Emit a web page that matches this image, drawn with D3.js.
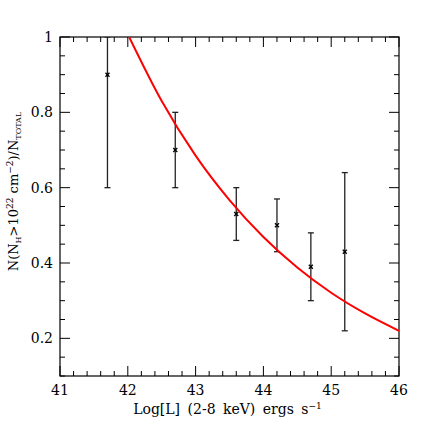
<!DOCTYPE html>
<html>
<head>
<meta charset="utf-8">
<script src="https://cdn.jsdelivr.net/npm/d3@7"></script>
<style>
  body { margin: 0; background: #fff; }
  svg text { font-family: "DejaVu Serif", serif; fill: #000; }
</style>
</head>
<body>
<div id="chart"></div>
<script>
// Measured points (Log L, fraction, lower, upper)
const logL = [41.7, 42.7, 43.6, 44.2, 44.7, 45.2];
const frac = [0.90, 0.70, 0.53, 0.50, 0.39, 0.43];
const errLo = [0.60, 0.60, 0.46, 0.43, 0.30, 0.22];
const errHi = [1.00, 0.80, 0.60, 0.57, 0.48, 0.64];

// Model curve
const curveX = [42.02, 42.5, 43.0, 43.5, 44.0, 44.5, 45.0, 45.5, 46.0];
const curveY = [1.00, 0.83, 0.685, 0.567, 0.469, 0.388, 0.321, 0.266, 0.22];

const xTicks = [41, 42, 43, 44, 45, 46];
const yTicks = [0.2, 0.4, 0.6, 0.8, 1];

const W = 436, H = 436;
const margin = { top: 37, right: 37, bottom: 60, left: 60 };
const width = W - margin.left - margin.right;
const height = H - margin.top - margin.bottom;

const x = d3.scaleLinear().domain([41, 46]).range([0, width]);
const y = d3.scaleLinear().domain([0.1, 1]).range([height, 0]);

const svg = d3.select("#chart")
    .append("svg")
        .attr("width", W)
        .attr("height", H)
    .append("g")
        .attr("transform", `translate(${margin.left},${margin.top})`);

// clip for data
svg.append("clipPath").attr("id", "clip")
    .append("rect").attr("width", width).attr("height", height);

// Frame
svg.append("rect")
    .attr("width", width).attr("height", height)
    .attr("fill", "none").attr("stroke", "#000").attr("stroke-width", 1.2);

// Ticks inside on all four sides
const xMinor = d3.range(41, 46.001, 0.2).map(v => +v.toFixed(1));
const yMinor = d3.range(0.1, 1.0001, 0.05).map(v => +v.toFixed(2));
const majorLen = 10, minorLen = 5;
const isMajorX = v => Math.abs(v - Math.round(v)) < 1e-6;
const isMajorY = v => Math.abs(v * 5 - Math.round(v * 5)) < 1e-6;

const ticks = svg.append("g").attr("stroke", "#000").attr("stroke-width", 1);
xMinor.forEach(v => {
    const L = isMajorX(v) ? majorLen : minorLen;
    ticks.append("line").attr("x1", x(v)).attr("x2", x(v)).attr("y1", height).attr("y2", height - L);
    ticks.append("line").attr("x1", x(v)).attr("x2", x(v)).attr("y1", 0).attr("y2", L);
});
yMinor.forEach(v => {
    const L = isMajorY(v) ? majorLen : minorLen;
    ticks.append("line").attr("y1", y(v)).attr("y2", y(v)).attr("x1", 0).attr("x2", L);
    ticks.append("line").attr("y1", y(v)).attr("y2", y(v)).attr("x1", width).attr("x2", width - L);
});

// Tick labels
svg.append("g").selectAll("text")
    .data(xTicks)
    .join("text")
        .attr("x", d => x(d))
        .attr("y", height + 19)
        .attr("text-anchor", "middle")
        .attr("font-size", 14)
        .text(d => d);
svg.append("g").selectAll("text")
    .data(yTicks)
    .join("text")
        .attr("x", -7)
        .attr("y", d => y(d) + 5)
        .attr("text-anchor", "end")
        .attr("font-size", 14)
        .text(d => d);

// Error bars
const g_err = svg.append("g").attr("clip-path", "url(#clip)")
    .attr("stroke", "#222").attr("stroke-width", 1.3);
logL.forEach((v, i) => {
    g_err.append("line").attr("x1", x(v)).attr("x2", x(v)).attr("y1", y(errLo[i])).attr("y2", y(errHi[i]));
    g_err.append("line").attr("x1", x(v) - 3).attr("x2", x(v) + 3).attr("y1", y(errLo[i])).attr("y2", y(errLo[i]));
    g_err.append("line").attr("x1", x(v) - 3).attr("x2", x(v) + 3).attr("y1", y(errHi[i])).attr("y2", y(errHi[i]));
    // x marker
    const cx = x(v), cy = y(frac[i]), s = 2;
    g_err.append("line").attr("x1", cx - s).attr("x2", cx + s).attr("y1", cy - s).attr("y2", cy + s).attr("stroke", "#000");
    g_err.append("line").attr("x1", cx - s).attr("x2", cx + s).attr("y1", cy + s).attr("y2", cy - s).attr("stroke", "#000");
});

// Model curve
const line = d3.line()
    .x(d => x(d[0]))
    .y(d => y(d[1]))
    .curve(d3.curveMonotoneX);
svg.append("path")
    .attr("clip-path", "url(#clip)")
    .attr("d", line(d3.zip(curveX, curveY)))
    .attr("fill", "none")
    .attr("stroke", "#ff0000")
    .attr("stroke-width", 2);

// Axis titles
const xt = svg.append("text")
    .attr("x", width / 2 - 2)
    .attr("y", height + 38)
    .attr("text-anchor", "middle")
    .attr("font-size", 14)
    .attr("word-spacing", 3);
xt.append("tspan").text("Log[L] (2-8 keV) ergs s");
xt.append("tspan").attr("dy", -5).attr("font-size", 9).text("\u22121");

const yt = svg.append("text")
    .attr("transform", `translate(${-margin.left + 18},${height / 2 - 15}) rotate(-90)`)
    .attr("text-anchor", "middle")
    .attr("font-size", 13);
yt.append("tspan").text("N(N");
yt.append("tspan").attr("dy", 3).attr("font-size", 8).text("H");
yt.append("tspan").attr("dy", -3).text(">10");
yt.append("tspan").attr("dy", -5).attr("font-size", 9).text("22");
yt.append("tspan").attr("dy", 5).text(" cm");
yt.append("tspan").attr("dy", -5).attr("font-size", 9).text("\u22122");
yt.append("tspan").attr("dy", 5).text(")/N");
yt.append("tspan").attr("dy", 3).attr("font-size", 8).text("TOTAL");
</script>
</body>
</html>
